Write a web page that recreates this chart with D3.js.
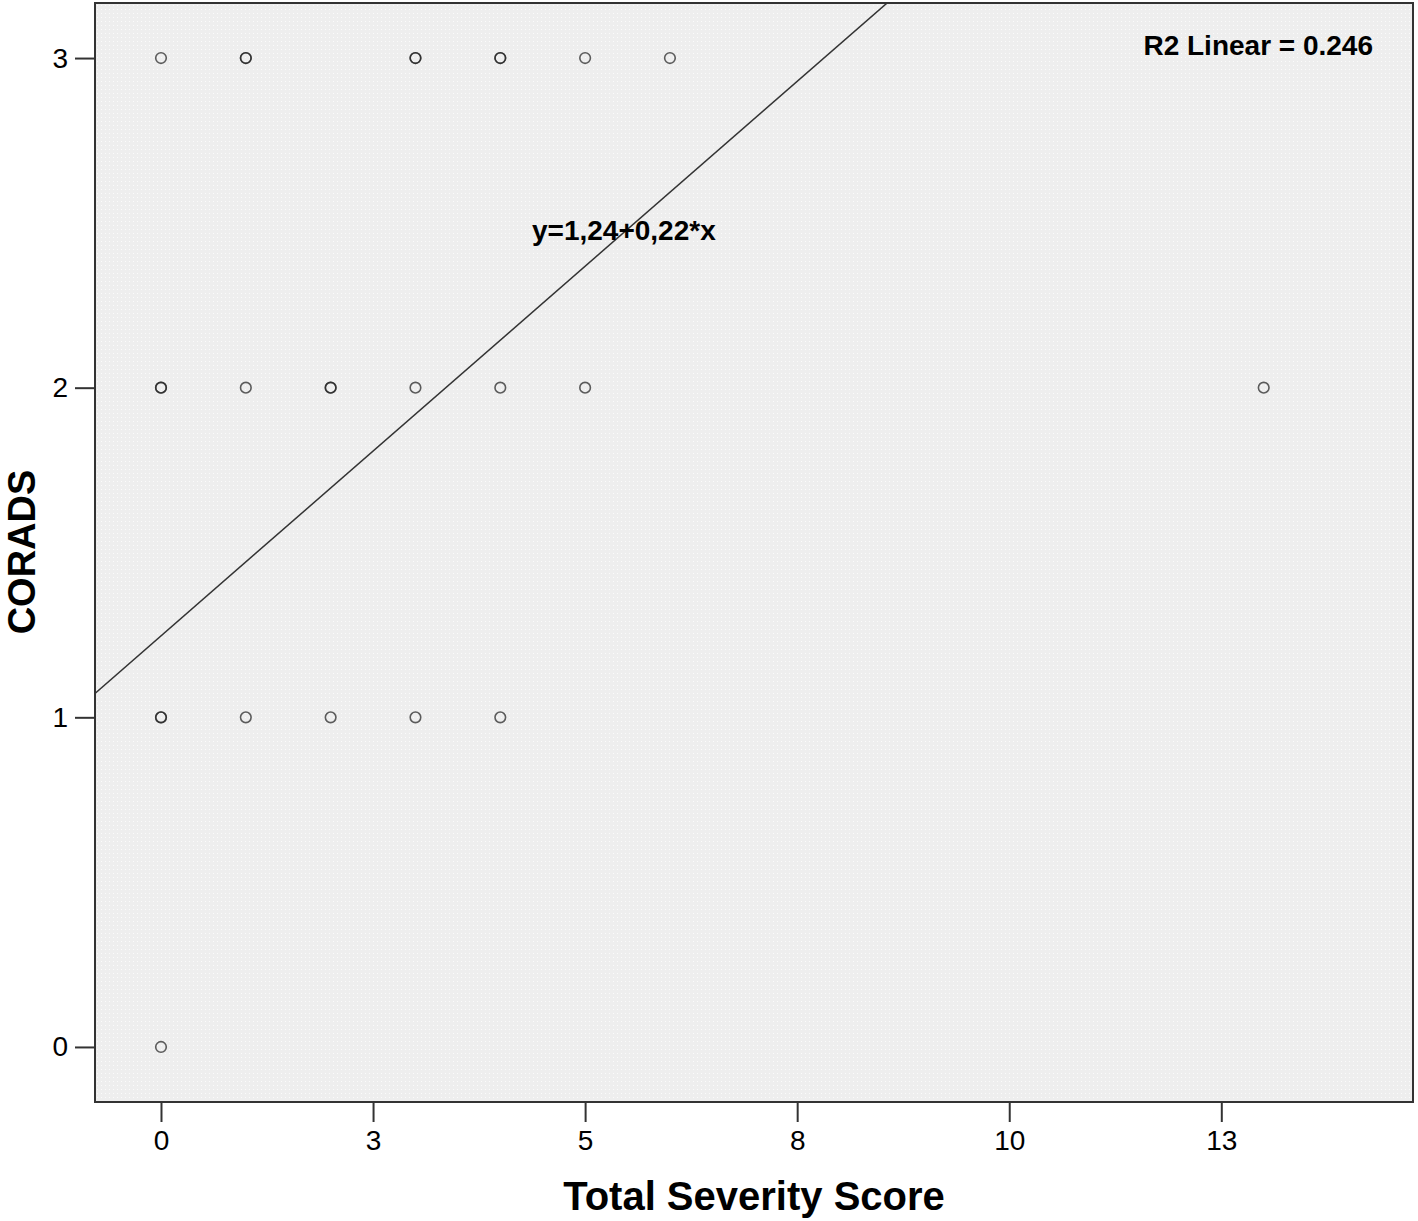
<!DOCTYPE html>
<html><head><meta charset="utf-8">
<script src="https://cdn.jsdelivr.net/npm/d3@7"></script>
<style>body{margin:0;background:#fff}svg{display:block}text{font-family:Arial,"Liberation Sans",sans-serif;fill:#000}</style>
</head><body>
<script>
// Data: (Total Severity Score, CORADS); repeated entries = overlapping observations
const severity = [0,1,1,3,3,4,4,5,6, 0,0,1,2,2,3,4,5,13, 0,0,1,2,3,4, 0];
const corads   = [3,3,3,3,3,3,3,3,3, 2,2,2,2,2,2,2,2,2,  1,1,1,1,1,1, 0];
const xTickValues = [0,2.5,5,7.5,10,12.5];
const xTickLabels = ["0","3","5","8","10","13"];
const yTickValues = [0,1,2,3];
const intercept = 1.247, slope = 0.2243;
const eqLabel = "y=1,24+0,22*x";
const r2Label = "R2 Linear = 0.246";
const xTitle = "Total Severity Score", yTitle = "CORADS";

const W=1418,H=1221, L=95,R=1413,T=3,B=1102;
const svg=d3.select("body").append("svg").attr("width",W).attr("height",H);
const x=d3.scaleLinear().domain([-0.778,14.76]).range([L,R]);
const y=d3.scaleLinear().domain([-0.167,3.167]).range([B,T]);

const defs=svg.append("defs");
const pat=defs.append("pattern").attr("id","dots").attr("width",4).attr("height",4).attr("patternUnits","userSpaceOnUse");
pat.append("rect").attr("width",4).attr("height",4).attr("fill","#eeeeee");
pat.append("rect").attr("x",1).attr("y",1).attr("width",1).attr("height",1).attr("fill","#fbfbfb");
defs.append("clipPath").attr("id","clip").append("rect").attr("x",L).attr("y",T).attr("width",R-L).attr("height",B-T);

svg.append("rect").attr("x",L).attr("y",T).attr("width",R-L).attr("height",B-T).attr("fill","url(#dots)");

// regression line
const xd=x.domain();
svg.append("line").attr("clip-path","url(#clip)")
  .attr("x1",x(xd[0])).attr("y1",y(intercept+slope*xd[0]))
  .attr("x2",x(xd[1])).attr("y2",y(intercept+slope*xd[1]))
  .attr("stroke","#333").attr("stroke-width",1.5);

// points
svg.append("g").selectAll("circle").data(severity.map((s,i)=>[s,corads[i]])).join("circle")
  .attr("cx",d=>x(d[0])).attr("cy",d=>y(d[1])).attr("r",5.3)
  .attr("fill","none").attr("stroke","#222").attr("stroke-opacity",0.72).attr("stroke-width",1.6);

// frame
svg.append("rect").attr("x",L).attr("y",T).attr("width",R-L).attr("height",B-T)
  .attr("fill","none").attr("stroke","#333").attr("stroke-width",2);

// axes
const xAxis=d3.axisBottom(x).tickValues(xTickValues).tickFormat((d,i)=>xTickLabels[i]).tickSize(20).tickPadding(8);
const gx=svg.append("g").attr("transform",`translate(0,${B})`).call(xAxis);
const yAxis=d3.axisLeft(y).tickValues(yTickValues).tickFormat(d3.format("d")).tickSize(20).tickPadding(7);
const gy=svg.append("g").attr("transform",`translate(${L},0)`).call(yAxis);
[gx,gy].forEach(g=>{g.select(".domain").remove();
  g.selectAll(".tick line").attr("stroke","#333").attr("stroke-width",2);
  g.selectAll(".tick text").attr("font-size",28).attr("fill","#000").style("font-family","Arial, 'Liberation Sans', sans-serif");});

// annotations
svg.append("text").attr("x",1373).attr("y",55).attr("text-anchor","end").attr("font-size",28).attr("font-weight","bold").text(r2Label);
svg.append("text").attr("x",532).attr("y",240).attr("font-size",28).attr("font-weight","bold").text(eqLabel);

// titles
svg.append("text").attr("x",(L+R)/2).attr("y",1210).attr("text-anchor","middle").attr("font-size",40).attr("font-weight","bold").text(xTitle);
svg.append("text").attr("transform","translate(35,552) rotate(-90)").attr("text-anchor","middle").attr("font-size",38).attr("font-weight","bold").text(yTitle);
</script>
</body></html>
